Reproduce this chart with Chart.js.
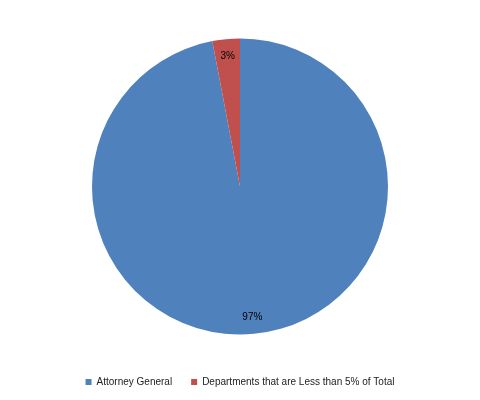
<!DOCTYPE html>
<html>
<head>
<meta charset="utf-8">
<script src="https://cdn.jsdelivr.net/npm/chart.js@4"></script>
<style>
  html, body { margin: 0; padding: 0; background: #fff; }
  #wrap { width: 480px; height: 400px; }
</style>
</head>
<body>
<div id="wrap"><canvas id="chart"></canvas></div>
<script>
const categories = ["Attorney General", "Departments that are Less than 5% of Total"];
const shares = [97, 3];
const sliceColors = ["#4F81BD", "#C0504D"];

// percent labels inside each slice, near the rim
const sliceLabels = {
    id: "sliceLabels",
    afterDatasetsDraw(chart) {
        const ctx = chart.ctx;
        const meta = chart.getDatasetMeta(0);
        const total = shares.reduce((a, b) => a + b, 0);
        ctx.save();
        ctx.font = "10px 'Liberation Sans', Arial, sans-serif";
        ctx.fillStyle = "#000";
        ctx.textAlign = "center";
        ctx.textBaseline = "middle";
        meta.data.forEach((arc, i) => {
            const p = arc.getProps(["x", "y", "startAngle", "endAngle", "outerRadius"], true);
            const mid = (p.startAngle + p.endAngle) / 2;
            const r = p.outerRadius * 0.885;
            const pct = Math.round(shares[i] / total * 100) + "%";
            ctx.fillText(pct, p.x + Math.cos(mid) * r, p.y + Math.sin(mid) * r);
        });
        ctx.restore();
    }
};

new Chart("chart", {
    type: "pie",
    data: {
        labels: categories,
        datasets: [{
            data: shares,
            backgroundColor: sliceColors,
            borderWidth: 0
        }]
    },
    options: {
        responsive: true,
        maintainAspectRatio: false,
        animation: false,
        radius: 148,
        layout: { padding: { top: 15, bottom: 3 } },
        plugins: {
            legend: {
                position: "bottom",
                labels: {
                    boxWidth: 6,
                    boxHeight: 6,
                    padding: 19,
                    color: "#222",
                    font: { family: "'Liberation Sans', Arial, sans-serif", size: 10 }
                }
            },
            tooltip: { enabled: false }
        }
    },
    plugins: [sliceLabels]
});
</script>
</body>
</html>
